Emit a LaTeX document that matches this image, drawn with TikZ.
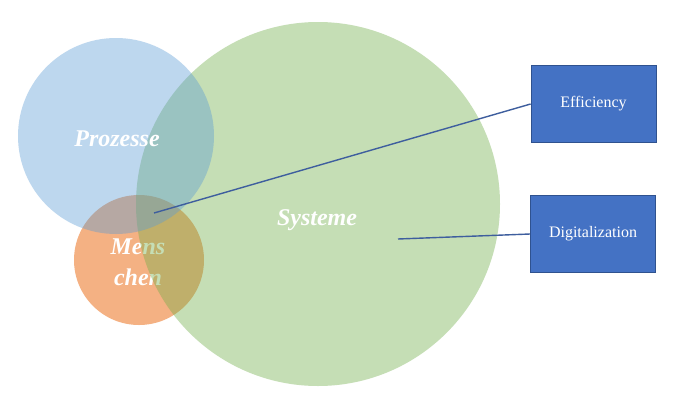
\documentclass[tikz,border=0pt]{standalone}
\usepackage{fontspec}
\setmainfont{Liberation Serif}
\definecolor{cblue}{HTML}{5B9BD5}
\definecolor{cgreen}{HTML}{70AD47}
\definecolor{corange}{HTML}{ED7D31}
\definecolor{boxfill}{HTML}{4472C4}
\definecolor{boxline}{HTML}{2F528F}
\definecolor{linec}{HTML}{3E5E9E}
\begin{document}
\begin{tikzpicture}[x=1pt,y=-1pt,
  blob/.style={circle,inner sep=0pt,draw=none},
  bigtext/.style={text=white,font=\fontsize{24}{26}\selectfont\bfseries\itshape,inner sep=0pt},
  tagbox/.style={rectangle,fill=boxfill,draw=boxline,line width=0.8pt,minimum width=125pt,minimum height=77pt,text=white,font=\fontsize{16}{18}\selectfont,inner sep=0pt},
  link/.style={draw=linec,line width=1.4pt}]
\useasboundingbox (0,0) rectangle (674,402);
\fill[white] (0,0) rectangle (674,402);
% orange circle with its text
\node[blob,fill=corange,fill opacity=0.6,minimum size=130pt] (men) at (139,260) {};
\node[bigtext,align=center] (mentext) at (138,262) {Mens\\[5pt]chen};
% green circle
\node[blob,fill=cgreen,fill opacity=0.4,minimum size=364pt] (sys) at (318,204) {};
% blue circle
\node[blob,fill=cblue,fill opacity=0.4,minimum size=196pt] (proz) at (116,136) {};
\node[bigtext] (prozt) at (117,139) {Prozesse};
\node[bigtext] (syst) at (317,220) {Systeme};
% boxes
\node[tagbox] (eff) at (593.5,104) {\raisebox{-2pt}{Efficiency}};
\node[tagbox] (dig) at (593,234) {\raisebox{-2pt}{Digitalization}};
% connectors
\coordinate (p1) at (154,213);
\coordinate (p2) at (398,239);
\draw[link] (p1) -- (eff.west);
\draw[link] (p2) -- (dig.west);
\end{tikzpicture}
\end{document}
